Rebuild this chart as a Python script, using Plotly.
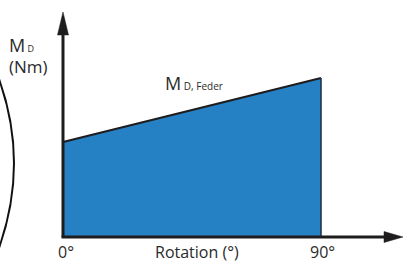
import plotly.graph_objects as go

# Data (relative spring torque M_D over rotation)
rotation_deg = [0, 90]
torque_md = [1.0, 1.674]
x_tick_labels = ["0°", "90°"]
x_title = "Rotation (°)"
y_title_main = "M"
y_title_sub = "D"
y_unit = "(Nm)"
series_main = "M"
series_sub = "D, Feder"

W, H = 403, 264
X0PX, X90PX = 63, 321
Y0PX = 237
PX_PER_UNIT = 95.0
k = (X90PX - X0PX) / 90.0
x_range = [-X0PX / k, (W - X0PX) / k]
y_range = [-(H - Y0PX) / PX_PER_UNIT, Y0PX / PX_PER_UNIT]

BLUE = "rgb(37,128,196)"
DARK = "#1f1c1d"
TEXT = "#2a2a2a"
FONT = "Open Sans"

def px(xp, yp):
    return xp / W, 1 - yp / H

fig = go.Figure()
# Filled area under the torque line
fig.add_trace(go.Scatter(
    x=[rotation_deg[0]] + rotation_deg + [rotation_deg[-1]],
    y=[0] + torque_md + [0],
    fill="toself", fillcolor=BLUE, mode="lines",
    line=dict(width=0, color=BLUE), hoverinfo="skip", showlegend=False))
# Top edge
fig.add_trace(go.Scatter(x=rotation_deg, y=torque_md, mode="lines",
                         line=dict(color=DARK, width=2.2), showlegend=False))
# Right edge
fig.add_trace(go.Scatter(x=[rotation_deg[-1], rotation_deg[-1]], y=[0, torque_md[-1]],
                         mode="lines", line=dict(color="#1e3550", width=1.6), showlegend=False))

shapes = []
# Axes lines
ax0, ay0 = px(X0PX, Y0PX)
ytop = px(X0PX, 30)
xend = px(388, Y0PX)
shapes.append(dict(type="line", xref="paper", yref="paper", x0=ax0, y0=ay0, x1=ytop[0], y1=ytop[1],
                   line=dict(color=DARK, width=3)))
shapes.append(dict(type="line", xref="paper", yref="paper", x0=ax0 - 1.5 / W, y0=ay0, x1=xend[0], y1=xend[1],
                   line=dict(color=DARK, width=3)))
# Arrowheads
def tri(p1, p2, p3):
    a, b, c = px(*p1), px(*p2), px(*p3)
    return f"M {a[0]},{a[1]} L {b[0]},{b[1]} L {c[0]},{c[1]} Z"
shapes.append(dict(type="path", xref="paper", yref="paper",
                   path=tri((63, 12), (57.5, 35), (68.5, 35)),
                   fillcolor=DARK, line=dict(color=DARK, width=0.5)))
shapes.append(dict(type="path", xref="paper", yref="paper",
                   path=tri((403, 237), (384, 231.5), (384, 242.5)),
                   fillcolor=DARK, line=dict(color=DARK, width=0.5)))
# Left decorative arc
s, c, e = px(-1, 79), px(29, 163), px(-1, 248)
shapes.append(dict(type="path", xref="paper", yref="paper",
                   path=f"M {s[0]},{s[1]} Q {c[0]},{c[1]} {e[0]},{e[1]}",
                   line=dict(color="#111111", width=2)))

annotations = []
def label(text, xp, yp, size, xanchor="center", yanchor="middle"):
    x, y = px(xp, yp)
    annotations.append(dict(text=text, x=x, y=y, xref="paper", yref="paper",
                            xanchor=xanchor, yanchor=yanchor, showarrow=False, borderpad=0,
                            font=dict(family=FONT, size=size, color=TEXT)))

label(f"{y_title_main}<span style='font-size:9px'> {y_title_sub}</span>", 8, 45, 18, "left")
label(y_unit, 8, 66, 17, "left")
label(f"{series_main}<span style='font-size:10px'> {series_sub}</span>", 164, 83, 18, "left")
label(x_tick_labels[0], X0PX + 3, 264, 16, yanchor="bottom")
label(x_tick_labels[1], X90PX + 1, 264, 16, yanchor="bottom")
label(x_title, 197, 264, 16, yanchor="bottom")

fig.update_layout(
    width=W, height=H, margin=dict(l=0, r=0, t=0, b=0),
    paper_bgcolor="white", plot_bgcolor="white",
    xaxis=dict(range=x_range, visible=False, fixedrange=True),
    yaxis=dict(range=y_range, visible=False, fixedrange=True),
    shapes=shapes, annotations=annotations, showlegend=False,
)
fig.write_html("out.html", config={"displayModeBar": False},
               post_script="document.body.style.margin='0';document.body.style.padding='0';document.body.style.overflow='hidden';")
